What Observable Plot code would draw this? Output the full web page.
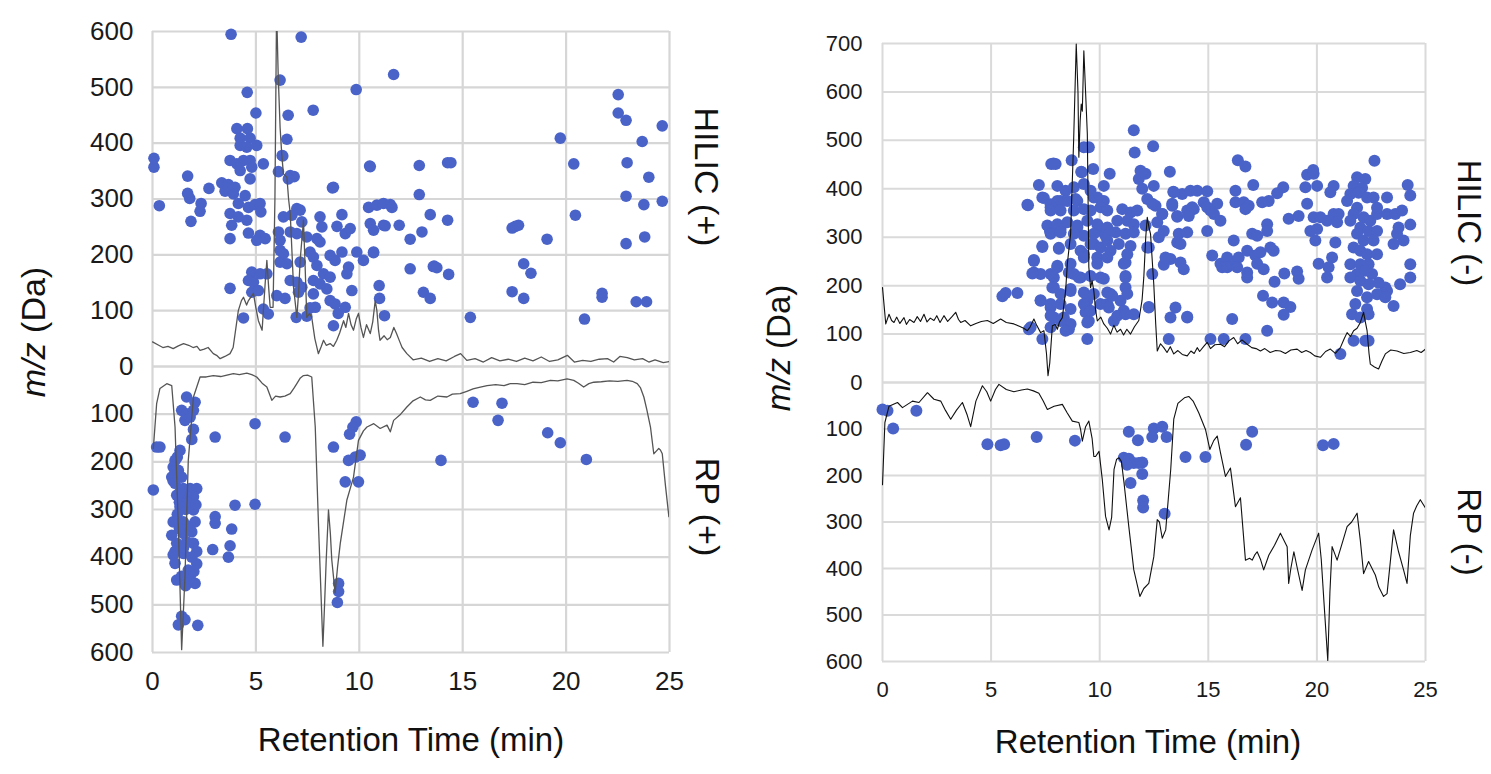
<!DOCTYPE html>
<html>
<head>
<meta charset="utf-8">
<script src="https://cdn.jsdelivr.net/npm/d3@7"></script>
<script src="https://cdn.jsdelivr.net/npm/@observablehq/plot@0.6"></script>
<style>
  html, body { margin: 0; padding: 0; background: #ffffff; }
  body { position: relative; width: 1491px; height: 774px; overflow: hidden;
         font-family: 'Liberation Sans', Arial, Helvetica, sans-serif; color: #111; }
  .lbl { position: absolute; white-space: nowrap; line-height: 1; color: #111; }
  svg { position: absolute; }
</style>
</head>
<body>
<script>
// ---------------- DATA ----------------
const timeTicks = [0, 5, 10, 15, 20, 25];
const posTopTicks = [0, 100, 200, 300, 400, 500, 600];
const posBottomTicks = [100, 200, 300, 400, 500, 600];
const negTopTicks = [0, 100, 200, 300, 400, 500, 600, 700];
const negBottomTicks = [100, 200, 300, 400, 500, 600];
const gridBottomTicks = [0, 100, 200, 300, 400, 500, 600];

// HILIC (+) features: retention time (min), m/z (Da)
const hilicPosDotT = [3.8,7.19,6.17,4.58,9.85,7.77,5.0,6.56,6.5,6.27,0.07,0.07,0.33,10.5,8.7,1.7,1.7,1.8,1.86,2.35,2.3,2.73,
 11.66,4.08,4.59,4.24,4.72,5.04,4.24,4.56,6.3,3.75,4.08,4.4,4.72,5.36,4.24,4.8,6.09,6.66,6.85,6.57,4.72,
 3.35,3.67,3.99,3.51,3.91,4.48,4.15,4.64,4.96,5.2,5.24,3.75,4.15,4.56,3.83,3.75,4.64,5.2,5.45,5.04,
 8.75,10.53,12.9,12.9,13.43,13.03,12.46,10.45,10.85,11.17,11.5,11.58,10.53,10.69,11.17,11.93,
 6.98,7.14,6.74,6.33,7.22,8.1,8.19,9.16,8.92,9.32,9.56,6.09,6.17,6.66,6.98,7.46,7.95,8.1,
 6.17,6.33,7.62,7.78,8.59,8.83,9.16,9.88,10.2,10.69,9.48,6.17,6.5,7.14,7.95,8.27,8.59,9.4,
 4.8,5.2,5.53,4.64,4.88,6.66,6.98,7.22,7.78,8.1,8.43,9.64,3.75,10.96,10.98,13.1,13.43,
 4.8,5.12,6.01,6.41,7.06,7.78,8.59,8.83,7.87,9.32,5.36,5.6,6.95,7.46,7.62,4.4,8.75,11.22,13.58,
 14.27,14.43,14.27,11.25,12.46,13.62,13.75,14.32,15.37,17.39,17.55,17.7,19.08,17.95,18.3,17.39,17.95,
 19.72,20.37,20.45,20.89,21.74,21.74,22.52,22.52,22.9,24.65,23.68,22.95,24.0,22.9,23.76,24.65,22.9,23.8,23.39,23.89,10.69,8.98];
const hilicPosDotMz = [595,590,513,491,496,459,454,450,407,378,373,357,288,359,320,341,310,301,260,292,278,319,
 523,426,426,409,409,396,396,393,377,369,363,369,369,363,351,357,349,342,340,336,336,
 329,326,321,314,309,306,292,285,290,292,277,274,268,262,253,229,239,235,229,226,
 321,358,360,308,272,241,228,285,289,292,290,285,256,244,253,253,
 283,280,271,268,259,268,250,272,251,238,247,241,226,241,238,232,229,223,
 208,202,205,196,199,190,205,205,190,205,178,187,184,187,181,166,160,166,
 169,166,166,154,151,154,151,142,154,148,139,136,140,145,122,133,122,
 133,136,127,122,133,130,118,112,106,106,103,94,88,90,105,87,73,91,179,
 365,365,262,252,175,180,177,165,88,248,251,253,228,184,167,134,122,
 409,363,271,85,131,124,487,454,441,431,403,365,339,305,290,296,220,232,116,116,204,95];

// HILIC (+) total ion trace
const hilicPosLineT = [0,0.3,0.5,0.75,1.0,1.25,1.5,1.75,1.96,2.15,2.3,2.5,2.69,2.94,3.1,3.27,3.5,3.75,3.9,4.15,4.3,4.4,4.55,4.64,4.88,5.0,5.12,5.3,5.45,5.53,5.62,5.69,5.83,5.92,6.0,6.08,6.17,6.25,6.33,6.5,6.58,6.66,6.75,6.82,6.98,7.06,7.14,7.3,7.38,7.46,7.6,7.7,7.85,8.02,8.15,8.27,8.4,8.59,8.75,8.91,9.05,9.24,9.35,9.48,9.6,9.72,9.85,9.96,10.08,10.2,10.35,10.53,10.65,10.77,10.85,10.93,11.0,11.2,11.35,11.5,11.67,11.8,11.95,12.07,12.3,12.6,13.0,13.4,13.8,14.2,14.6,14.9,15.2,15.6,16.0,16.4,16.8,17.2,17.6,18.0,18.4,18.8,19.2,19.6,20.06,20.4,20.8,21.2,21.6,22.0,22.3,22.6,22.96,23.3,23.7,24.0,24.3,24.7,25];
const hilicPosLineV = [44,38,34,36,32,37,41,38,34,36,29,31,34,23,20,14,18,23,34,100,118,124,110,118,131,105,82,65,150,190,140,106,106,300,640,520,428,380,345,339,300,274,200,142,88,130,190,262,180,88,95,88,50,23,35,47,38,41,36,47,60,82,70,95,75,65,85,95,70,52,75,59,80,118,100,65,47,55,48,52,70,59,45,34,23,12,15,9,14,10,18,23,11,14,8,16,10,13,9,15,10,17,9,12,20,8,11,9,13,14,8,18,16,12,14,8,12,7,9];

// RP (+) features
const rpPosDotT = [1.65,2.06,1.41,1.65,1.98,1.57,1.82,1.98,1.9,0.36,0.2,3.03,4.96,1.33,1.09,1.0,1.25,0.93,1.41,1.09,1.49,1.82,2.14,1.17,1.65,1.98,0.04,1.33,1.98,3.99,4.96,1.0,1.49,2.06,3.03,3.03,3.83,0.93,1.49,1.9,1.17,1.65,1.98,1.09,1.49,2.14,2.91,3.75,3.67,1.09,1.73,2.14,1.82,2.06,1.17,1.41,1.25,1.57,2.19,
 6.41,8.75,9.85,9.69,9.53,9.48,9.8,10.04,9.32,9.96,9.0,9.0,8.94,15.5,16.9,16.71,19.11,19.72,20.98,13.95,
 1.2,1.0,1.3,1.6,1.2,1.8,1.3,1.5,1.9,1.0,1.4,2.0,1.6,1.3,1.7,2.1];
const rpPosDotMz = [64,75,92,99,92,113,106,132,153,169,169,148,120,176,197,211,218,232,232,245,256,256,256,270,273,273,259,294,301,291,289,326,326,326,315,329,341,354,350,347,371,368,371,388,392,388,384,376,400,413,427,414,441,455,448,524,542,531,543,
 148,169,116,127,142,197,190,186,242,242,455,472,495,75,77,113,139,160,195,197,
 190,240,265,300,310,335,340,380,400,395,440,430,460,285,285,290];

// RP (+) total ion trace (plotted downward)
const rpPosLineT = [0.04,0.2,0.36,0.69,0.93,1.09,1.25,1.41,1.57,1.73,1.98,2.3,2.6,2.94,3.3,3.6,3.91,4.2,4.56,4.8,5.04,5.3,5.53,5.77,5.95,6.17,6.4,6.66,6.85,6.98,7.15,7.3,7.5,7.7,7.87,8.03,8.24,8.32,8.4,8.51,8.6,8.67,8.83,8.95,9.08,9.4,9.72,9.96,10.2,10.37,10.7,11.01,11.34,11.5,11.66,12.0,12.3,12.6,12.95,13.2,13.43,13.8,14.24,14.5,14.88,15.2,15.5,15.8,16.18,16.6,17.0,17.3,17.63,18.0,18.4,18.8,19.24,19.6,20.05,20.37,20.6,20.85,21.1,21.34,21.7,22.1,22.5,22.95,23.2,23.44,23.6,23.76,23.9,24.08,24.24,24.35,24.48,24.56,24.65,24.81,24.97];
const rpPosLineV = [172,78,46,36,40,127,336,594,441,197,64,22,22,19,21,18,15,17,14,17,22,35,43,71,62,64,62,57,45,36,24,19,18,22,127,336,587,500,406,301,350,406,475,420,371,280,232,155,135,127,120,130,123,137,113,100,85,72,64,70,71,62,64,58,57,52,47,44,40,38,40,36,36,38,33,34,29,30,26,29,35,43,36,33,32,30,31,29,31,36,45,64,90,127,183,178,172,175,183,252,315];

// HILIC (-) features
const hilicNegDotT = [5.52,5.67,6.21,6.74,7.36,6.67,7.2,7.36,7.77,7.97,8.71,9.17,9.27,9.5,9.7,10.46,
 6.97,7.36,6.97,7.28,8.12,7.28,7.71,8.2,8.97,7.74,8.2,8.97,9.73,10.19,
 7.74,8.05,7.89,8.2,7.74,7.89,8.35,8.66,8.58,8.81,9.12,9.27,9.43,9.35,9.5,9.43,
 9.73,9.89,10.04,10.35,10.04,10.5,10.35,10.65,10.96,
 11.57,11.61,12.46,7.87,9.15,11.88,12.11,11.8,13.23,
 8.05,8.43,8.81,9.27,9.58,10.19,9.89,11.96,12.49,12.19,12.57,13.39,13.8,14.18,14.49,
 6.7,7.43,7.74,8.05,8.51,8.89,
 7.74,8.2,8.81,9.27,9.58,10.04,10.35,11.04,11.42,11.73,12.88,13.34,13.57,14.03,14.33,
 7.59,8.05,8.51,8.97,9.43,9.89,10.35,10.81,11.27,11.57,
 7.74,8.2,8.81,9.27,9.73,10.27,10.73,11.19,11.57,12.11,12.65,12.95,13.64,14.03,
 7.36,8.12,8.66,9.12,9.58,10.04,10.5,10.88,11.42,12.26,12.72,13.57,
 6.97,8.05,8.66,9.27,9.89,10.35,11.19,12.95,13.26,13.72,13.87,
 6.9,7.89,8.58,9.04,9.58,10.19,11.19,12.42,
 7.28,7.82,8.66,9.27,9.73,10.35,10.58,11.19,
 7.74,8.2,8.66,9.27,9.58,10.04,10.42,11.11,12.26,13.49,13.26,14.03,
 7.74,8.2,8.66,9.43,10.81,11.57,6.82,7.74,8.43,13.18,
 16.36,16.71,19.55,19.83,22.65,17.07,18.45,18.17,17.78,17.48,
 16.25,16.25,16.63,16.86,16.71,15.41,15.1,14.79,14.95,
 13.41,13.34,14.26,13.57,14.1,14.95,15.26,15.56,14.95,
 19.47,20.01,19.85,20.77,18.7,19.16,19.55,19.85,20.16,20.47,20.77,21.0,20.93,20.62,
 19.7,20.01,19.93,20.85,17.71,17.71,17.02,17.25,
 16.17,15.18,15.56,15.87,16.17,16.4,16.79,17.17,17.4,17.86,18.01,
 15.64,15.87,16.33,16.79,17.25,17.55,16.79,
 18.05,18.5,19.09,19.16,17.52,17.94,18.47,18.78,18.47,17.71,
 20.08,20.54,20.7,20.47,21.08,21.69,22.23,22.38,
 13.03,14.03,15.1,15.71,16.71,16.1,12.26,12.19,11.19,11.19,11.27,11.11,11.27,12.42,12.88,13.72,
 21.85,22.23,21.69,22.08,21.54,21.92,22.31,22.61,21.39,21.85,21.69,22.15,22.46,22.77,21.54,22.0,22.38,22.77,21.85,22.15,22.61,21.69,22.0,22.31,22.77,
 21.54,22.0,22.38,21.85,22.23,22.54,21.54,22.0,22.38,22.84,23.15,21.85,22.31,22.77,23.23,23.15,21.77,22.31,21.62,22.0,22.38,
 23.53,23.83,24.3,24.3,23.99,23.69,23.53,23.76,24.3,23.23,23.61,23.92,22.77,23.23,24.18,24.3];
const hilicNegDotMz = [178,185,185,110,90,367,408,382,451,451,459,434,486,486,441,431,
 253,280,227,224,276,169,313,317,320,362,375,375,382,375,
 224,238,196,183,155,134,134,189,110,224,217,265,169,145,127,90,
 286,258,313,293,217,183,162,127,169,
 521,475,488,452,435,437,431,420,435,
 406,396,403,410,396,406,382,400,406,379,365,394,389,396,396,
 366,381,368,375,375,379,
 355,355,355,358,355,362,355,358,351,355,348,365,342,355,358,
 324,327,331,324,334,327,320,334,334,327,
 307,310,307,303,307,303,310,307,310,324,331,313,307,310,
 282,278,286,272,286,279,272,286,282,279,300,289,
 251,241,245,258,245,258,248,243,255,248,234,
 225,217,227,217,220,214,220,224,
 170,196,193,186,183,186,179,196,
 162,162,152,162,148,162,155,148,155,155,134,134,
 138,127,121,124,138,141,114,114,107,90,
 459,446,429,439,458,408,403,391,375,372,
 396,372,372,365,358,369,355,372,395,
 393,369,362,344,344,362,348,334,313,
 403,406,431,406,338,344,369,341,341,334,348,348,331,393,
 313,317,293,289,327,313,307,303,
 293,262,245,258,245,258,272,262,269,279,272,
 238,238,238,227,245,234,217,
 208,225,229,214,179,165,165,156,140,107,
 245,238,258,217,59,86,86,86,
 258,136,90,90,90,131,156,279,141,217,183,245,265,369,348,286,
 424,420,406,402,389,392,382,382,375,361,348,341,334,348,334,320,313,313,307,293,293,279,272,265,265,
 244,244,244,224,231,224,217,210,203,206,196,189,176,182,189,176,162,152,141,134,141,
 158,203,217,244,293,307,286,320,326,348,348,355,361,382,408,386];

// HILIC (-) total ion trace
const hilicNegLineT = [0,0.15,0.3,0.42,0.53,0.65,0.8,0.99,1.1,1.25,1.45,1.6,1.75,1.91,2.05,2.2,2.37,2.5,2.65,2.83,3.0,3.2,3.37,3.5,3.6,3.8,4.06,4.3,4.55,4.83,5.1,5.44,5.7,6.05,6.3,6.5,6.67,6.8,6.97,7.1,7.28,7.43,7.55,7.62,7.7,7.82,7.95,8.05,8.15,8.28,8.43,8.51,8.66,8.8,8.92,9.0,9.04,9.1,9.15,9.2,9.27,9.35,9.43,9.5,9.58,9.65,9.73,9.81,9.89,10.05,10.19,10.35,10.5,10.65,10.8,10.96,11.1,11.25,11.42,11.6,11.8,11.95,12.03,12.12,12.19,12.27,12.34,12.49,12.58,12.65,12.8,12.95,13.1,13.25,13.41,13.6,13.8,14.03,14.2,14.35,14.49,14.6,14.8,14.95,15.1,15.3,15.56,15.75,15.95,16.17,16.35,16.55,16.79,17.0,17.2,17.4,17.6,17.85,18.1,18.32,18.55,18.8,19.09,19.3,19.5,19.7,19.9,20.16,20.4,20.62,20.85,21.08,21.25,21.39,21.55,21.69,21.85,22.0,22.15,22.23,22.31,22.4,22.46,22.65,22.84,23.0,23.15,23.4,23.69,24.0,24.3,24.6,24.8,25];
const hilicNegLineV = [196,121,141,128,124,135,122,134,120,130,124,136,126,141,125,133,128,138,124,138,126,136,145,130,124,128,117,122,126,128,122,131,124,121,116,112,107,115,131,118,103,107,60,14,40,117,120,110,125,134,189,245,307,500,699,600,465,540,575,560,685,600,513,238,196,210,189,150,127,135,121,112,100,118,104,110,98,110,100,115,128,170,217,300,341,320,307,203,120,65,80,72,62,74,59,66,58,55,65,60,72,64,75,83,70,78,79,74,86,93,80,88,79,72,70,65,70,62,66,65,60,67,69,62,66,62,55,52,64,69,60,72,90,103,95,107,112,124,145,125,107,60,38,32,28,45,59,67,65,60,62,66,62,69];

// RP (-) features
const rpNegDotT = [0,0.23,0.49,1.56,4.83,5.44,5.6,7.1,8.86,11.34,11.76,12.49,12.88,12.42,13.08,11.11,11.34,11.57,11.96,11.8,11.26,11.96,11.42,12.0,12.0,12.99,13.95,14.87,16.74,17.02,20.28,20.77];
const rpNegDotMz = [58,61,99,61,133,135,133,117,125,106,124,99,95,117,117,162,164,173,172,173,177,197,216,254,269,282,160,160,134,106,135,132];

// RP (-) total ion trace (plotted downward)
const rpNegLineT = [0,0.11,0.3,0.69,0.92,1.38,1.68,2.07,2.37,2.68,2.9,3.14,3.4,3.68,3.9,4.06,4.3,4.6,4.8,4.98,5.2,5.36,5.7,6.05,6.4,6.67,6.95,7.2,7.4,7.59,7.9,8.28,8.5,8.74,9.04,9.12,9.2,9.35,9.5,9.65,9.73,9.81,9.97,10.12,10.27,10.43,10.55,10.66,10.78,10.89,11.0,11.12,11.34,11.57,11.85,12.03,12.26,12.49,12.65,12.75,12.88,13.04,13.27,13.41,13.6,13.72,13.9,14.1,14.3,14.56,14.87,15.07,15.25,15.41,15.56,15.79,16.02,16.25,16.48,16.71,16.9,17.02,17.15,17.25,17.4,17.55,17.79,18.05,18.32,18.63,18.7,18.8,18.94,19.1,19.32,19.47,19.78,20.08,20.2,20.31,20.5,20.6,20.7,20.93,21.2,21.39,21.6,21.85,22.0,22.15,22.38,22.69,22.85,23.07,23.23,23.53,23.76,23.99,24.15,24.3,24.45,24.6,24.76,25];
const rpNegLineV = [220,86,51,43,54,40,43,22,36,40,60,79,60,43,70,95,40,7,20,40,15,4,15,20,16,14,18,23,40,58,51,47,65,83,86,101,126,95,83,120,159,159,148,209,288,317,290,187,165,162,170,216,310,403,460,443,432,375,295,300,335,317,187,79,45,40,33,30,40,65,101,144,125,115,151,202,184,267,248,382,378,382,370,364,380,403,371,350,324,353,432,400,364,400,447,403,360,324,380,461,598,450,353,382,340,310,300,281,340,411,385,414,440,460,454,317,364,403,432,330,281,265,252,270];

// Text
const yTitle = "(Da)";
const xTitle = "Retention Time (min)";
const facetLabels = ["HILIC (+)", "RP (+)", "HILIC (-)", "RP (-)"];

// ---------------- DRAWING ----------------
const FONT = "'Liberation Sans', Arial, Helvetica, sans-serif";
const DOT = "#4a63c9";

function panel(o) {
  const ml = 150, mr = 20, mt = 15, mb = o.showX ? 60 : 15;
  const W = ml + (o.x1 - o.x0) + mr;
  const H = mt + (o.y1 - o.y0) + mb;
  const marks = [
    Plot.gridX(timeTicks, {stroke: o.gridColor, strokeOpacity: 1, strokeWidth: o.gridW}),
    Plot.gridY(o.gridTicks, {stroke: o.gridColor, strokeOpacity: 1, strokeWidth: o.gridW}),
    Plot.dot(o.dotT, {x: o.dotT, y: o.dotV, r: o.r, fill: DOT}),
    Plot.line(o.lineT, {x: o.lineT, y: o.lineV, stroke: o.lineColor, strokeWidth: o.lineW, clip: true}),
    Plot.axisY(o.labelTicks, {tickSize: 0, tickPadding: o.padY, fontSize: o.fs, fill: "#1a1a1a", label: null})
  ];
  if (o.showX) marks.push(Plot.axisX(timeTicks, {tickSize: 0, tickPadding: o.padX, fontSize: o.fs, fill: "#1a1a1a", label: null}));
  const svg = Plot.plot({
    width: W, height: H,
    marginLeft: ml, marginRight: mr, marginTop: mt, marginBottom: mb,
    x: {domain: [0, 25], axis: o.showX ? undefined : null},
    y: {domain: o.yDomain, reverse: !!o.reverse},
    style: {fontFamily: FONT, background: "transparent", color: "#1a1a1a", overflow: "visible"},
    marks
  });
  svg.style.left = (o.x0 - ml) + "px";
  svg.style.top = (o.y0 - mt) + "px";
  svg.style.maxWidth = "none";
  document.body.appendChild(svg);
}

// Left: positive mode
panel({x0: 152, x1: 669, y0: 31, y1: 366, yDomain: [0, 600], gridTicks: posTopTicks, labelTicks: posTopTicks,
  dotT: hilicPosDotT, dotV: hilicPosDotMz, lineT: hilicPosLineT, lineV: hilicPosLineV,
  lineColor: "#555", lineW: 1.3, r: 5.8, fs: 26, padY: 19, gridColor: "#d6d6d6", gridW: 2.2});
panel({x0: 152, x1: 669, y0: 366, y1: 652, yDomain: [0, 600], reverse: true, gridTicks: gridBottomTicks, labelTicks: posBottomTicks,
  dotT: rpPosDotT, dotV: rpPosDotMz, lineT: rpPosLineT, lineV: rpPosLineV, showX: true, padX: 19,
  lineColor: "#555", lineW: 1.3, r: 5.8, fs: 26, padY: 19, gridColor: "#d6d6d6", gridW: 2.2});

// Right: negative mode
panel({x0: 882, x1: 1425, y0: 43, y1: 382, yDomain: [0, 700], gridTicks: negTopTicks, labelTicks: negTopTicks,
  dotT: hilicNegDotT, dotV: hilicNegDotMz, lineT: hilicNegLineT, lineV: hilicNegLineV,
  lineColor: "#111", lineW: 1.1, r: 6, fs: 22, padY: 20, gridColor: "#dadada", gridW: 2});
panel({x0: 882, x1: 1425, y0: 382, y1: 661, yDomain: [0, 600], reverse: true, gridTicks: gridBottomTicks, labelTicks: negBottomTicks,
  dotT: rpNegDotT, dotV: rpNegDotMz, lineT: rpNegLineT, lineV: rpNegLineV, showX: true, padX: 20,
  lineColor: "#111", lineW: 1.1, r: 6, fs: 22, padY: 20, gridColor: "#dadada", gridW: 2});

// Text labels
function label(html, cx, cy, size, rot) {
  const d = document.createElement("div");
  d.className = "lbl";
  d.innerHTML = html;
  d.style.fontSize = size + "px";
  d.style.left = cx + "px";
  d.style.top = cy + "px";
  d.style.transform = "translate(-50%,-50%)" + (rot ? " rotate(" + rot + "deg)" : "");
  document.body.appendChild(d);
}
label("<i>m/z</i> " + yTitle, 33, 332, 34, -90);
label("<i>m/z</i> " + yTitle, 778, 348, 33, -90);
label(xTitle, 411, 739, 33, 0);
label(xTitle, 1148, 741, 33, 0);
label(facetLabels[0], 707, 177, 34, 90);
label(facetLabels[1], 708, 507, 34, 90);
label(facetLabels[2], 1469, 223, 33, 90);
label(facetLabels[3], 1469, 532, 33, 90);
</script>
</body>
</html>
